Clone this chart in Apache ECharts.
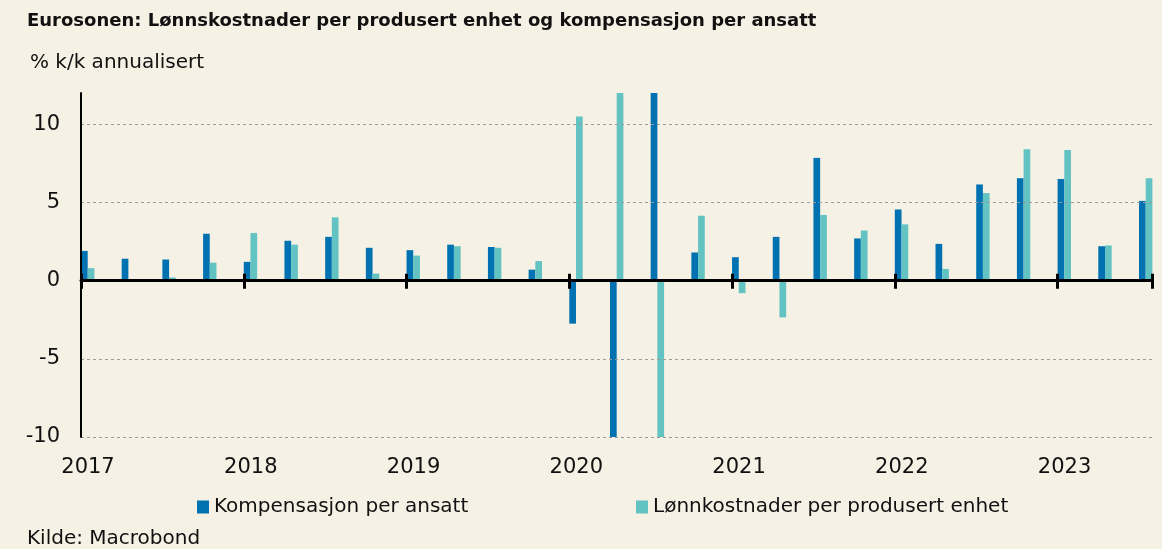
<!DOCTYPE html>
<html>
<head>
<meta charset="utf-8">
<script src="https://cdn.jsdelivr.net/npm/echarts@6/dist/echarts.min.js"></script>
<style>
html,body{margin:0;padding:0;background:#F5F1E4;}
#chart{width:1162px;height:549px;}
</style>
</head>
<body>
<div id="chart"></div>
<script>
// ---- Data ----
const quarters = [
  '2017K1','2017K2','2017K3','2017K4',
  '2018K1','2018K2','2018K3','2018K4',
  '2019K1','2019K2','2019K3','2019K4',
  '2020K1','2020K2','2020K3','2020K4',
  '2021K1','2021K2','2021K3','2021K4',
  '2022K1','2022K2','2022K3','2022K4',
  '2023K1','2023K2','2023K3'
];
const kompensasjon = [
  1.9, 1.4, 1.35, 3.0,
  1.2, 2.55, 2.8, 2.1,
  1.95, 2.3, 2.15, 0.7,
  -2.75, -17, 20, 1.8,
  1.5, 2.8, 7.85, 2.7,
  4.55, 2.35, 6.15, 6.55,
  6.5, 2.2, 5.1
];
const lonnskostnader = [
  0.8, 0.05, 0.2, 1.15,
  3.05, 2.3, 4.05, 0.45,
  1.6, 2.2, 2.1, 1.25,
  10.5, 17, -12, 4.15,
  -0.8, -2.35, 4.2, 3.2,
  3.6, 0.75, 5.6, 8.4,
  8.35, 2.25, 6.55
];
const seriesNames = ['Kompensasjon per ansatt', 'Lønnkostnader per produsert enhet'];
const yearTicks = [2017, 2018, 2019, 2020, 2021, 2022, 2023];
const titleText = 'Eurosonen: Lønnskostnader per produsert enhet og kompensasjon per ansatt';
const subtitleText = '% k/k annualisert';
const sourceText = 'Kilde: Macrobond';

// ---- Layout / style ----
const W = 1162;
const gridL = 81, gridR = 10, gridT = 93, gridB = 112;
const xMin = yearTicks[0], xMax = 2023.58;
const barW = 6.7;
const pxPerYear = (W - gridL - gridR) / (xMax - xMin);
const groupShift = barW / pxPerYear; // bar group starts at the quarter date
const FONT = 'DejaVu Sans';
const DARK = '#0072B2', LIGHT = '#62C3C2';

function qToX(q) {
  const y = parseInt(q.slice(0, 4), 10);
  const k = parseInt(q.slice(5), 10);
  return y + (k - 1) / 4 + groupShift;
}
const d1 = quarters.map((q, i) => [qToX(q), kompensasjon[i]]);
const d2 = quarters.map((q, i) => [qToX(q), lonnskostnader[i]]);

const baseX = {type: 'value', min: xMin, max: xMax, interval: 1, gridIndex: 0, position: 'bottom'};

const chart = echarts.init(document.getElementById('chart'), null, {renderer: 'canvas'});
chart.setOption({
  backgroundColor: '#F5F1E4',
  animation: false,
  textStyle: {fontFamily: FONT},
  title: [
    {text: titleText, left: 27, top: 12, padding: 0,
     textStyle: {fontFamily: FONT, fontSize: 18, fontWeight: 'bold', color: '#111'}},
    {text: subtitleText, left: 30, top: 53, padding: 0,
     textStyle: {fontFamily: FONT, fontSize: 20, fontWeight: 'normal', color: '#111'}},
    {text: sourceText, left: 27, top: 529, padding: 0,
     textStyle: {fontFamily: FONT, fontSize: 20, fontWeight: 'normal', color: '#111'}}
  ],
  legend: [
    {data: [seriesNames[0]], left: 197, top: 497, padding: 0, icon: 'rect', itemWidth: 12, itemHeight: 13,
     textStyle: {fontFamily: FONT, fontSize: 20, color: '#111'}},
    {data: [seriesNames[1]], left: 636, top: 497, padding: 0, icon: 'rect', itemWidth: 12, itemHeight: 13,
     textStyle: {fontFamily: FONT, fontSize: 20, color: '#111'}}
  ],
  grid: {left: gridL, right: gridR, top: gridT, bottom: gridB, containLabel: false, outerBoundsMode: 'none'},
  xAxis: [
    Object.assign({}, baseX, {
      axisLine: {show: false, onZero: false},
      axisTick: {show: false},
      splitLine: {show: false},
      axisLabel: {show: true, margin: 20, padding: [0, 0, 0, 14], color: '#111', showMaxLabel: false,
                  fontFamily: FONT, fontSize: 21, formatter: v => String(Math.round(v))}
    }),
    Object.assign({}, baseX, {
      z: 5,
      axisLine: {show: true, onZero: true, onZeroAxisIndex: 0, lineStyle: {color: '#000', width: 3}},
      axisTick: {show: true, inside: false, length: 8, lineStyle: {color: '#000', width: 3}},
      axisLabel: {show: false},
      splitLine: {show: false}
    }),
    Object.assign({}, baseX, {
      z: 5,
      axisLine: {show: false, onZero: true, onZeroAxisIndex: 0},
      axisTick: {show: true, inside: true, length: 7, lineStyle: {color: '#000', width: 3}},
      axisLabel: {show: false},
      splitLine: {show: false}
    })
  ],
  yAxis: {
    type: 'value', min: -10, max: 12, interval: 5,
    z: 4,
    axisLine: {show: true, onZero: false, lineStyle: {color: '#000', width: 2}},
    axisTick: {show: false},
    axisLabel: {margin: 21, color: '#111', fontFamily: FONT, fontSize: 21, showMaxLabel: false},
    splitLine: {show: true, showMaxLine: false, lineStyle: {color: '#9a9a9a', width: 1, type: [3, 3]}}
  },
  series: [
    {name: seriesNames[0], type: 'bar', xAxisIndex: 0, data: d1, barWidth: barW, barGap: '0%',
     itemStyle: {color: DARK}, clip: true},
    {name: seriesNames[1], type: 'bar', xAxisIndex: 0, data: d2, barWidth: barW, barGap: '0%',
     itemStyle: {color: LIGHT}, clip: true}
  ]
});
</script>
</body>
</html>
